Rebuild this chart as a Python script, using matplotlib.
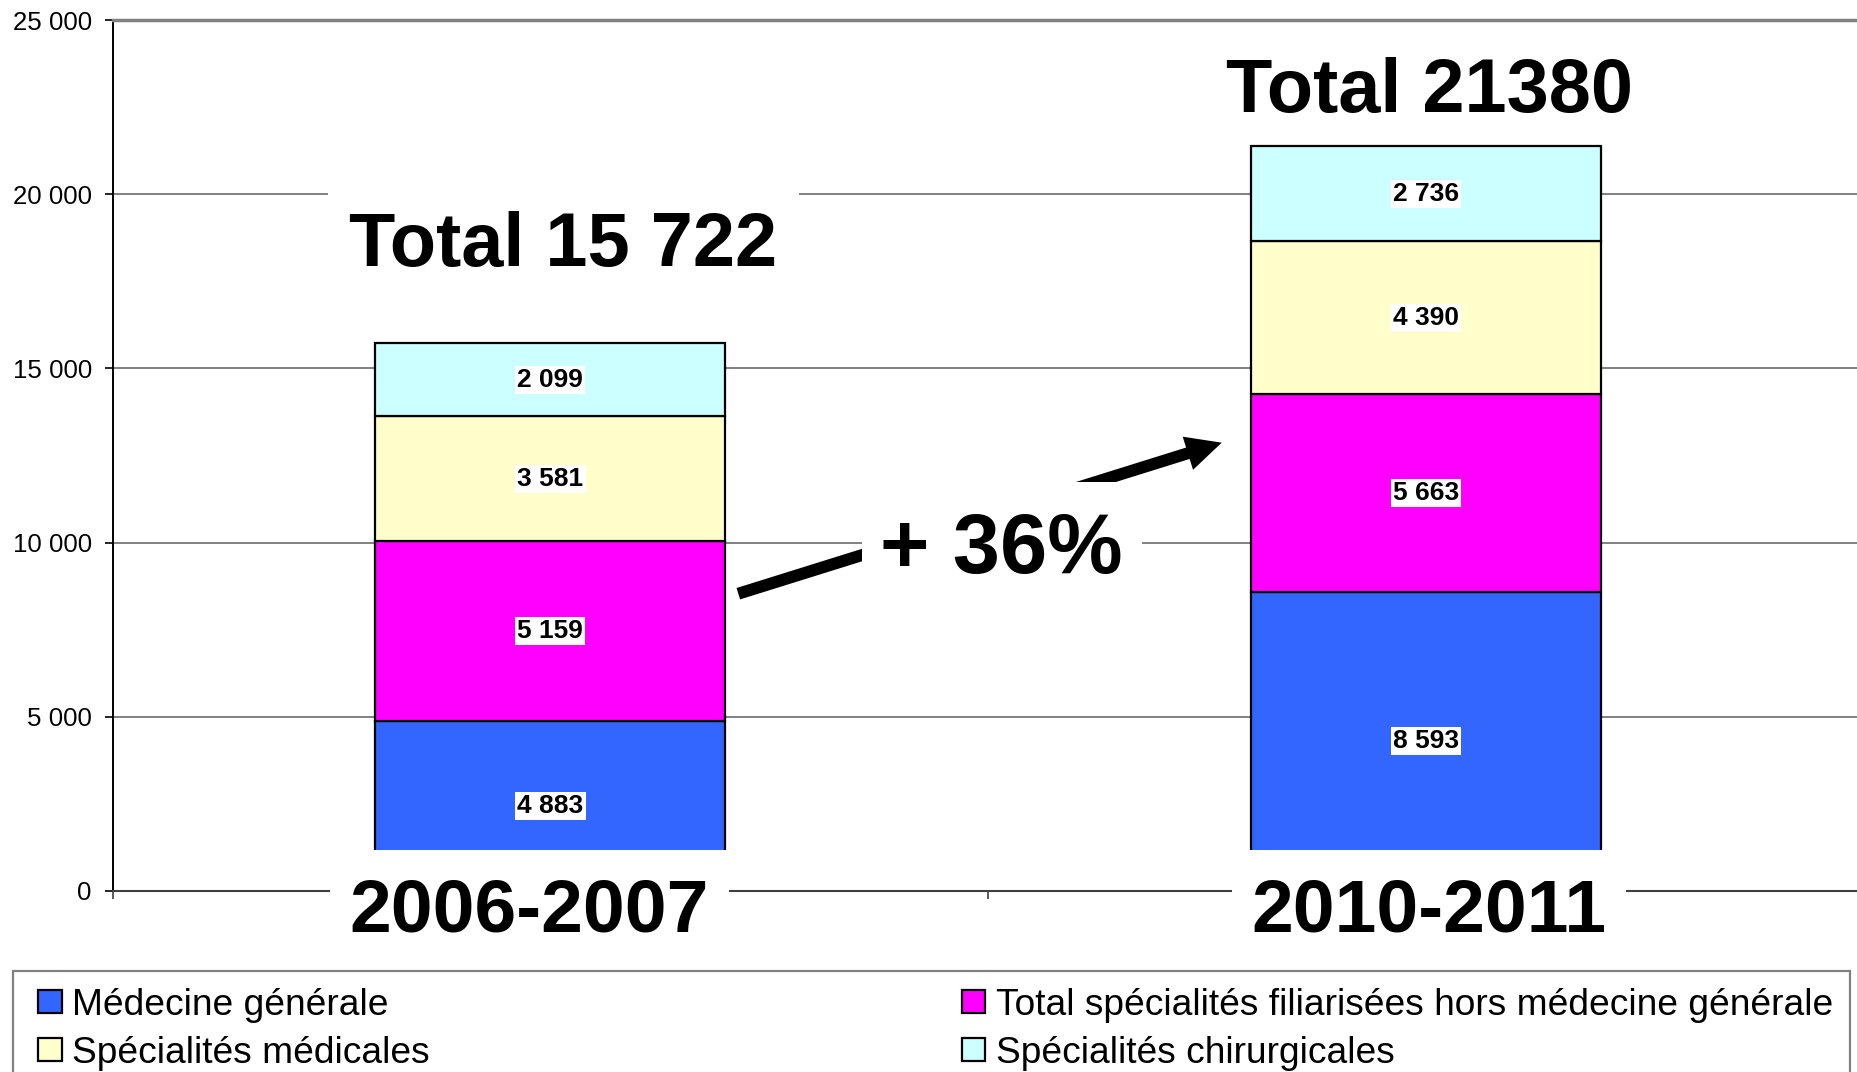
import matplotlib.pyplot as plt
import matplotlib.patches as mpatches
from matplotlib.path import Path
from matplotlib.legend_handler import HandlerPatch
from matplotlib.ticker import FuncFormatter
from matplotlib.transforms import blended_transform_factory

plt.rcParams['font.family'] = ['Liberation Sans', 'DejaVu Sans']

# data
periods = ['2006-2007', '2010-2011']
series_names = ['Médecine générale',
                'Total spécialités filiarisées hors médecine générale',
                'Spécialités médicales',
                'Spécialités chirurgicales']
medecine_generale = [4883, 8593]
hors_mg = [5159, 5663]
spec_medicales = [3581, 4390]
spec_chirurgicales = [2099, 2736]
totals_text = ['Total 15 722', 'Total 21380']
growth_text = '+ 36%'

colors = ['#3366FF', '#FF00FF', '#FFFFCC', '#CCFFFF']
series = [medecine_generale, hors_mg, spec_medicales, spec_chirurgicales]


def fmt(v, pos=None):
    return f'{v:,.0f}'.replace(',', ' ')


def pad_box(px, py):
    # rectangle box with separate x / y padding (fractions of font size)
    def style(x0, y0, width, height, mutation_size):
        dx, dy = px * mutation_size, py * mutation_size
        return Path([(x0 - dx, y0 - dy), (x0 + width + dx, y0 - dy),
                     (x0 + width + dx, y0 + height + dy), (x0 - dx, y0 + height + dy),
                     (x0 - dx, y0 - dy)], closed=True)
    return style


W, H = 1858, 1072
fig = plt.figure(figsize=(W / 100, H / 100), dpi=100)
ax = fig.add_axes([112.6 / W, 1 - 891 / H, (1863.6 - 112.6) / W, (891 - 20) / H])

x = list(range(len(periods)))
bottoms = [0] * len(periods)
handles = []
for vals, col in zip(series, colors):
    b = ax.bar(x, vals, width=0.4, bottom=bottoms, color=col,
               edgecolor='black', linewidth=1.6, zorder=2)
    handles.append(b.patches[0])
    for xi, v, bt in zip(x, vals, bottoms):
        ax.text(xi, bt + v / 2, fmt(v), ha='center', va='center',
                fontsize=19, fontweight='bold', zorder=4,
                bbox=dict(boxstyle='square,pad=0.08', fc='white', ec='none'))
    bottoms = [bt + v for bt, v in zip(bottoms, vals)]

ax.set_xlim(-0.5, 1.5)
ax.set_ylim(0, 25000)
ax.set_yticks(range(0, 25001, 5000))
ax.yaxis.set_major_formatter(FuncFormatter(fmt))
ax.set_xticks([-0.5, 0.5, 1.5])
ax.set_xticklabels(['', '', ''])
ax.tick_params(axis='y', length=6, width=1.2, pad=9, labelsize=18.6)
ax.tick_params(axis='x', length=6, width=1.2, color='#404040')
ax.yaxis.grid(True, color='#808080', linewidth=1.4)
ax.set_axisbelow(True)
ax.spines['right'].set_visible(False)
ax.spines['top'].set_color('#808080')
ax.spines['top'].set_linewidth(2.5)
ax.spines['bottom'].set_color('#404040')
ax.spines['bottom'].set_linewidth(1.5)
ax.spines['left'].set_linewidth(1.4)

# category labels below the bars, with white boxes over the bar bottoms
trans = blended_transform_factory(ax.transData, ax.transAxes)
for xi, lab, dx in zip(x, periods, [-0.024, 0.004]):
    ax.text(xi + dx, -0.046, lab, transform=trans, ha='center', va='baseline',
            fontsize=54, fontweight='bold', zorder=5, clip_on=False,
            bbox=dict(boxstyle=pad_box(0.26, 0.36), fc='white', ec='none'))

# totals above the bars (box hides gridlines only)
for (tx, ty), t in zip([(0.015, 17940), (1.004, 22360)], totals_text):
    ax.text(tx, ty, t, ha='center', va='baseline', fontsize=54.5,
            fontweight='bold', zorder=1.8,
            bbox=dict(boxstyle='square,pad=0.28', fc='white', ec='none'))

# growth arrow and label
ax.annotate('', xy=(0.7668, 12868), xytext=(0.2147, 8533),
            arrowprops=dict(width=8.6, headwidth=25, headlength=25.5,
                            facecolor='black', edgecolor='black',
                            linewidth=0, shrink=0), zorder=3)
ax.text(0.5154, 9119, growth_text, ha='center', va='baseline', fontsize=61,
        fontweight='bold', zorder=5,
        bbox=dict(boxstyle=pad_box(0.22, 0.34), fc='white', ec='none'))


def square_handle(legend, orig_handle, xdescent, ydescent, width, height, fontsize):
    return mpatches.Rectangle((width - height - xdescent, -ydescent), height, height)


order = [0, 2, 1, 3]
leg = fig.legend([handles[i] for i in order], [series_names[i] for i in order],
                 loc='upper left', bbox_to_anchor=(12.7 / W, 1 - 971 / H),
                 ncol=2, fontsize=26.7, frameon=True, fancybox=False,
                 edgecolor='#808080', framealpha=1, borderpad=0.45,
                 handlelength=0.87, handleheight=0.6, handletextpad=0.29,
                 columnspacing=14.1, labelspacing=0.35, borderaxespad=0,
                 handler_map={mpatches.Rectangle: HandlerPatch(patch_func=square_handle)})
leg.get_frame().set_linewidth(1.6)

fig.savefig('out.png', dpi=100)
